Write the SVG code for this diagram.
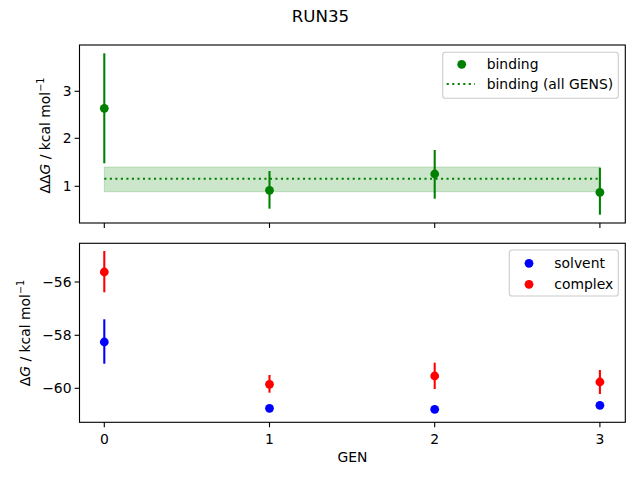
<svg xmlns="http://www.w3.org/2000/svg" width="640" height="480" viewBox="0 0 640 480">
<style>
text{font-family:"DejaVu Sans",sans-serif;font-size:13.9px;fill:#000}
.tl{text-anchor:end}
.tc{text-anchor:middle}
.ax{fill:none;stroke:#000;stroke-width:1.11;stroke-linecap:square}
.tk{stroke:#000;stroke-width:1.11}
.eg{stroke:#008000;stroke-width:2.08}
.eb{stroke:#0000ff;stroke-width:2.08}
.er{stroke:#ff0000;stroke-width:2.08}
.leg{fill:#fff;fill-opacity:0.8;stroke:#cccccc;stroke-width:1.11}
</style>
<rect width="640" height="480" fill="#fff"/>
<text x="320.5" y="21.7" class="tc" style="font-size:16.67px">RUN35</text>

<g id="top-axes">
<rect x="104.3" y="167" width="495.6" height="24.7" fill="#008000" fill-opacity="0.2" stroke="#008000" stroke-opacity="0.2" stroke-width="1"/>
<line x1="104.3" y1="178.7" x2="599.9" y2="178.7" stroke="#008000" stroke-width="2.08" stroke-dasharray="2.08 3.44"/>
<g id="binding">
<line class="eg" x1="104.3" y1="53.3" x2="104.3" y2="163.3"/>
<line class="eg" x1="269.5" y1="171" x2="269.5" y2="208.7"/>
<line class="eg" x1="434.7" y1="150" x2="434.7" y2="198.7"/>
<line class="eg" x1="599.9" y1="167.7" x2="599.9" y2="214.7"/>
<g fill="#008000">
<circle cx="104.3" cy="108.3" r="4.4"/>
<circle cx="269.5" cy="190.3" r="4.4"/>
<circle cx="434.7" cy="174" r="4.4"/>
<circle cx="599.9" cy="192.3" r="4.4"/>
</g>
</g>
<rect class="ax" x="79.5" y="45" width="545.8" height="178"/>
<g class="tk">
<line x1="104.3" y1="223" x2="104.3" y2="227.9"/>
<line x1="269.5" y1="223" x2="269.5" y2="227.9"/>
<line x1="434.7" y1="223" x2="434.7" y2="227.9"/>
<line x1="599.9" y1="223" x2="599.9" y2="227.9"/>
<line x1="79.5" y1="186.3" x2="74.6" y2="186.3"/>
<line x1="79.5" y1="138.3" x2="74.6" y2="138.3"/>
<line x1="79.5" y1="91.3" x2="74.6" y2="91.3"/>
</g>
<text x="71.5" y="191.3" class="tl">1</text>
<text x="71.5" y="143.3" class="tl">2</text>
<text x="71.5" y="96.3" class="tl">3</text>
<text transform="translate(49.5,135.5) rotate(-90)" class="tc">ΔΔ<tspan font-style="italic">G</tspan> / kcal mol<tspan dy="-5.5" font-size="9.7px">−1</tspan></text>
<g id="legend-top">
<rect class="leg" x="442.7" y="52.3" width="175.6" height="46" rx="2.8"/>
<circle cx="461.7" cy="64.3" r="4.4" fill="#008000"/>
<text x="486.7" y="69.2">binding</text>
<line x1="446.7" y1="84" x2="475" y2="84" stroke="#008000" stroke-width="2.08" stroke-dasharray="2.08 3.44"/>
<text x="486.7" y="89.2">binding (all GENS)</text>
</g>
</g>

<g id="bottom-axes">
<g id="solvent">
<line class="eb" x1="104.3" y1="319.3" x2="104.3" y2="363.7"/>
<line class="eb" x1="269.5" y1="405" x2="269.5" y2="411.5"/>
<line class="eb" x1="434.7" y1="406" x2="434.7" y2="412.5"/>
<line class="eb" x1="599.9" y1="402" x2="599.9" y2="408.5"/>
<g fill="#0000ff">
<circle cx="104.3" cy="342" r="4.4"/>
<circle cx="269.5" cy="408.3" r="4.4"/>
<circle cx="434.7" cy="409.3" r="4.4"/>
<circle cx="599.9" cy="405.3" r="4.4"/>
</g>
</g>
<g id="complex">
<line class="er" x1="104.3" y1="251" x2="104.3" y2="292.3"/>
<line class="er" x1="269.5" y1="375" x2="269.5" y2="392.7"/>
<line class="er" x1="434.7" y1="362.7" x2="434.7" y2="389"/>
<line class="er" x1="599.9" y1="370" x2="599.9" y2="394"/>
<g fill="#ff0000">
<circle cx="104.3" cy="272" r="4.4"/>
<circle cx="269.5" cy="384.3" r="4.4"/>
<circle cx="434.7" cy="376" r="4.4"/>
<circle cx="599.9" cy="382" r="4.4"/>
</g>
</g>
<rect class="ax" x="79.5" y="243.3" width="545.8" height="179"/>
<g class="tk">
<line x1="104.3" y1="422.3" x2="104.3" y2="427.2"/>
<line x1="269.5" y1="422.3" x2="269.5" y2="427.2"/>
<line x1="434.7" y1="422.3" x2="434.7" y2="427.2"/>
<line x1="599.9" y1="422.3" x2="599.9" y2="427.2"/>
<line x1="79.5" y1="282" x2="74.6" y2="282"/>
<line x1="79.5" y1="335.3" x2="74.6" y2="335.3"/>
<line x1="79.5" y1="388.3" x2="74.6" y2="388.3"/>
</g>
<text x="71.5" y="287" class="tl">−56</text>
<text x="71.5" y="340.3" class="tl">−58</text>
<text x="71.5" y="393.3" class="tl">−60</text>
<text x="104.3" y="443.5" class="tc">0</text>
<text x="269.5" y="443.5" class="tc">1</text>
<text x="434.7" y="443.5" class="tc">2</text>
<text x="599.9" y="443.5" class="tc">3</text>
<text x="352.4" y="462" class="tc">GEN</text>
<text transform="translate(29.5,333) rotate(-90)" class="tc">Δ<tspan font-style="italic">G</tspan> / kcal mol<tspan dy="-5.5" font-size="9.7px">−1</tspan></text>
<g id="legend-bottom">
<rect class="leg" x="509.3" y="250" width="109" height="46" rx="2.8"/>
<circle cx="529" cy="263.3" r="4.4" fill="#0000ff"/>
<text x="554.3" y="268.2">solvent</text>
<circle cx="529" cy="284.3" r="4.4" fill="#ff0000"/>
<text x="554.3" y="289.2">complex</text>
</g>
</g>
</svg>
